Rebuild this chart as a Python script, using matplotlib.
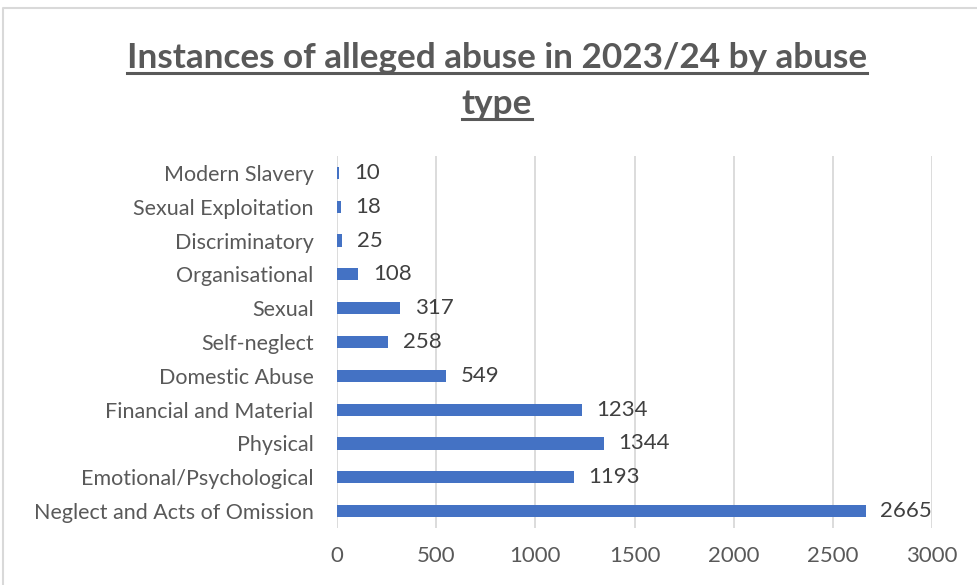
import matplotlib.pyplot as plt
from matplotlib.lines import Line2D

categories = ["Neglect and Acts of Omission", "Emotional/Psychological", "Physical",
              "Financial and Material", "Domestic Abuse", "Self-neglect", "Sexual",
              "Organisational", "Discriminatory", "Sexual Exploitation", "Modern Slavery"]
counts = [2665, 1193, 1344, 1234, 549, 258, 317, 108, 25, 18, 10]
xticks = [0, 500, 1000, 1500, 2000, 2500, 3000]

plt.rcParams['font.family'] = ['Lato', 'DejaVu Sans']
text_col = '#595959'

fig = plt.figure(figsize=(9.77, 5.85), dpi=100)
ax = fig.add_axes([0.345, 0.0974, 0.609, 0.636])

ypos = list(range(len(categories)))
ax.barh(ypos, counts, height=0.36, color='#4472C4', zorder=3)
for y, v in zip(ypos, counts):
    ax.text(v + 75, y, str(v), va='center', ha='left', fontsize=16, color='#404040')

ax.set_xlim(0, 3000)
ax.set_ylim(-0.5, len(categories) - 0.5)
ax.set_yticks(ypos)
ax.set_yticklabels(categories, fontsize=15.5, color=text_col)
ax.set_xticks(xticks)
ax.set_xticklabels([str(t) for t in xticks], fontsize=16, color=text_col)
ax.tick_params(axis='both', length=0)
ax.tick_params(axis='x', pad=13)
ax.tick_params(axis='y', pad=17)
ax.grid(axis='x', color='#d9d9d9', linewidth=1.3, zorder=0)
for s in ax.spines.values():
    s.set_visible(False)

# title on two lines, each underlined
t1 = fig.text(0.5087, 1 - 58 / 585, "Instances of alleged abuse in 2023/24 by abuse",
              ha='center', va='center', fontsize=25.3, fontweight='bold', color=text_col)
t2 = fig.text(0.5087, 1 - 104 / 585, "type",
              ha='center', va='center', fontsize=25.3, fontweight='bold', color=text_col)
fig.canvas.draw()
r = fig.canvas.get_renderer()
for t in (t1, t2):
    bb = t.get_window_extent(r).transformed(fig.transFigure.inverted())
    yl = bb.y0 + 0.002
    fig.add_artist(Line2D([bb.x0, bb.x1], [yl, yl], color=text_col, linewidth=2.2,
                          transform=fig.transFigure))

# outer chart border
fig.add_artist(Line2D([0.003, 0.003, 1.0], [0.0, 0.986, 0.986], color='#d9d9d9',
                      linewidth=1.5, transform=fig.transFigure))

fig.savefig("out.png", dpi=100)
